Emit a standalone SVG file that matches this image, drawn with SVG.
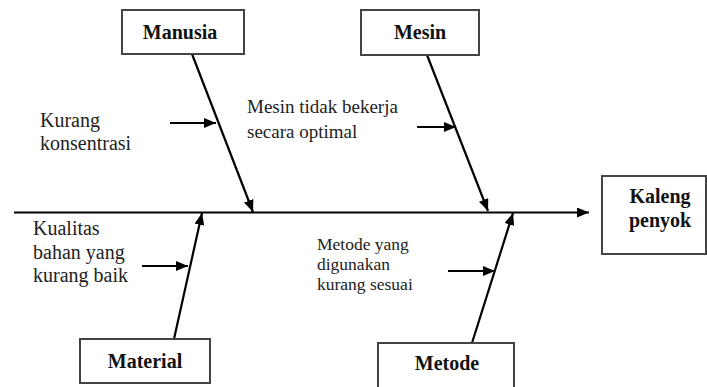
<svg xmlns="http://www.w3.org/2000/svg" width="707" height="387" viewBox="0 0 707 387">
<style>
.box{fill:#fff;stroke:#444;stroke-width:2}
.lbl{font-family:"Liberation Serif","Times New Roman",serif;font-weight:bold;font-size:20px;fill:#111;text-anchor:middle}
.txt{font-family:"Liberation Serif","Times New Roman",serif;font-size:20px;fill:#222}
.md{font-size:19px}
.sm{font-size:17.5px}
.ln{stroke:#000;stroke-width:2.2;fill:none;marker-end:url(#ah)}
</style>
<defs>
<marker id="ah" viewBox="0 0 12 10" refX="12" refY="5" markerWidth="12" markerHeight="10" markerUnits="userSpaceOnUse" orient="auto">
<path d="M0,0 L12,5 L0,10 z" fill="#000"/>
</marker>
</defs>
<g id="connectors">
<line class="ln" x1="14" y1="212.5" x2="589" y2="212.5"/>
<line class="ln" x1="192" y1="54" x2="253" y2="212"/>
<line class="ln" x1="427" y1="55" x2="488" y2="211"/>
<line class="ln" x1="174" y1="339" x2="202" y2="213"/>
<line class="ln" x1="472" y1="343" x2="513" y2="213"/>
<line class="ln" x1="170" y1="123" x2="216" y2="123"/>
<line class="ln" x1="417" y1="127" x2="456" y2="127"/>
<line class="ln" x1="142" y1="266" x2="188" y2="266"/>
<line class="ln" x1="448" y1="271" x2="495" y2="271"/>
</g>
<g id="manusia">
<rect class="box" x="122" y="10" width="122" height="44"/>
<text class="lbl" x="180" y="39">Manusia</text>
</g>
<g id="mesin">
<rect class="box" x="361" y="10" width="118" height="45"/>
<text class="lbl" x="420" y="39">Mesin</text>
</g>
<g id="kaleng">
<rect class="box" x="602" y="176" width="104" height="78"/>
<text class="lbl" x="660" y="203">Kaleng</text>
<text class="lbl" x="660" y="227">penyok</text>
</g>
<g id="material">
<rect class="box" x="80" y="339" width="130" height="44"/>
<text class="lbl" x="145" y="368">Material</text>
</g>
<g id="metode">
<rect class="box" x="378" y="343" width="136" height="50"/>
<text class="lbl" x="447" y="370">Metode</text>
</g>
<g id="cause-manusia">
<text class="txt" x="40" y="127">Kurang</text>
<text class="txt" x="40" y="150">konsentrasi</text>
</g>
<g id="cause-mesin">
<text class="txt md" x="247" y="113">Mesin tidak bekerja</text>
<text class="txt md" x="247" y="138">secara optimal</text>
</g>
<g id="cause-material">
<text class="txt" x="33" y="235">Kualitas</text>
<text class="txt" x="33" y="259">bahan yang</text>
<text class="txt" x="33" y="282">kurang baik</text>
</g>
<g id="cause-metode">
<text class="txt sm" x="317" y="250">Metode yang</text>
<text class="txt sm" x="317" y="270">digunakan</text>
<text class="txt sm" x="317" y="290">kurang sesuai</text>
</g>
</svg>
